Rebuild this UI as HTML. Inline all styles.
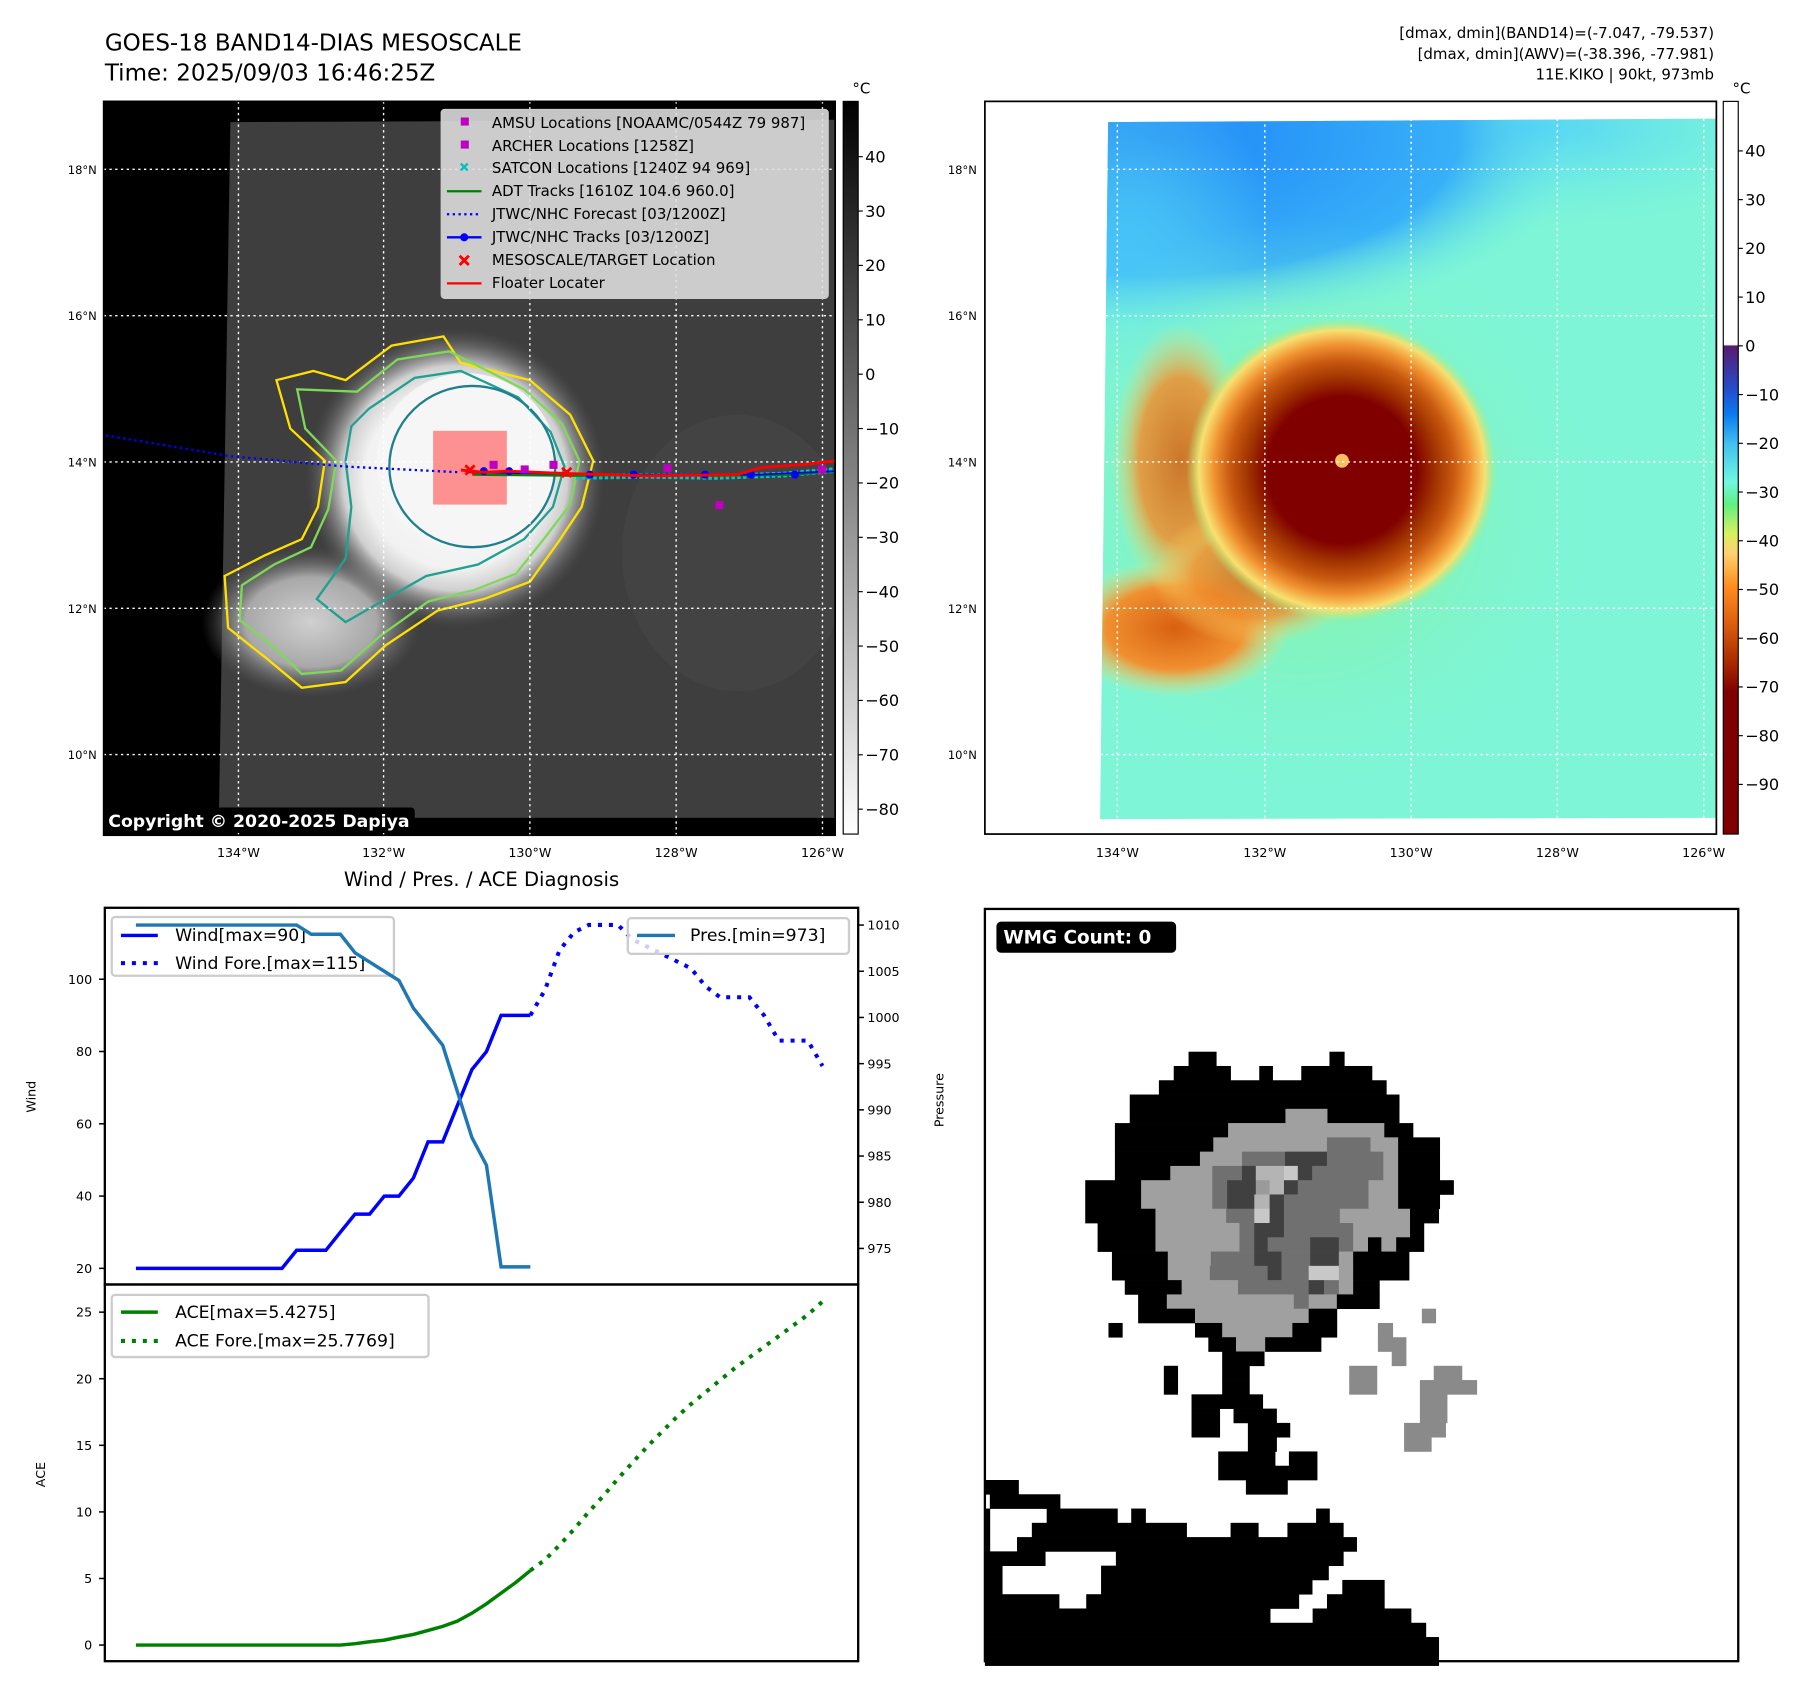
<!DOCTYPE html>
<html><head><meta charset="utf-8"><style>
html,body{margin:0;padding:0;background:#fff;}
svg{display:block;font-family:"DejaVu Sans","Liberation Sans",sans-serif;}
</style></head><body>
<svg id="fig" width="1797" height="1690" viewBox="0 0 1560 1467" preserveAspectRatio="none" xmlns="http://www.w3.org/2000/svg">
<defs>
<linearGradient id="cb1" x1="0" y1="0" x2="0" y2="1"><stop offset="0" stop-color="#000"/><stop offset="1" stop-color="#fff"/></linearGradient>
<linearGradient id="cb2" x1="0" y1="88" x2="0" y2="724" gradientUnits="userSpaceOnUse">
<stop offset="0" stop-color="#fff"/><stop offset="0.332" stop-color="#fff"/><stop offset="0.334" stop-color="#5a1a6e"/>
<stop offset="0.395" stop-color="#2050d0"/><stop offset="0.427" stop-color="#0a7af0"/><stop offset="0.467" stop-color="#40c0f0"/>
<stop offset="0.52" stop-color="#70f8e0"/><stop offset="0.55" stop-color="#60f080"/><stop offset="0.59" stop-color="#d8f060"/>
<stop offset="0.617" stop-color="#ffd070"/><stop offset="0.66" stop-color="#ff9020"/><stop offset="0.71" stop-color="#e06010"/>
<stop offset="0.76" stop-color="#b03000"/><stop offset="0.806" stop-color="#800000"/><stop offset="1" stop-color="#800000"/></linearGradient>
<radialGradient id="core1"><stop offset="0" stop-color="#fafafa"/><stop offset="0.6" stop-color="#f2f2f2"/><stop offset="0.75" stop-color="#d0d0d0"/><stop offset="1" stop-color="#5a5a5a" stop-opacity="0"/></radialGradient>
<radialGradient id="arm1"><stop offset="0" stop-color="#d0d0d0"/><stop offset="0.6" stop-color="#a8a8a8"/><stop offset="1" stop-color="#606060" stop-opacity="0"/></radialGradient>
<radialGradient id="blue2" cx="0.5" cy="0.5" r="0.5"><stop offset="0" stop-color="#1e86f8"/><stop offset="0.7" stop-color="#38b0f8"/><stop offset="1" stop-color="#70f0e8" stop-opacity="0"/></radialGradient>
<radialGradient id="lblue2" cx="0.5" cy="0.5" r="0.5"><stop offset="0" stop-color="#50d0f8"/><stop offset="1" stop-color="#70f0e8" stop-opacity="0"/></radialGradient>
<radialGradient id="storm2"><stop offset="0" stop-color="#800000"/><stop offset="0.48" stop-color="#800000"/><stop offset="0.6" stop-color="#a03200"/><stop offset="0.72" stop-color="#c85a10"/><stop offset="0.82" stop-color="#f09030"/><stop offset="0.92" stop-color="#f8e070"/><stop offset="1" stop-color="#a0f080" stop-opacity="0"/></radialGradient>
<radialGradient id="green2"><stop offset="0" stop-color="#90f080"/><stop offset="1" stop-color="#80f4c8" stop-opacity="0"/></radialGradient>
<radialGradient id="orange2"><stop offset="0" stop-color="#d86010"/><stop offset="0.6" stop-color="#f09030"/><stop offset="1" stop-color="#f8e070" stop-opacity="0"/></radialGradient>
<clipPath id="clip1"><rect x="90" y="88" width="635" height="637"/></clipPath>
<clipPath id="clip2"><rect x="855" y="88" width="635" height="636"/></clipPath>
<clipPath id="img2"><polygon points="962,106 1490,103 1490,710 955,711"/></clipPath>
</defs>

<text x="91" y="44" font-size="20">GOES-18 BAND14-DIAS MESOSCALE</text>
<text x="91" y="70" font-size="20">Time: 2025/09/03 16:46:25Z</text>
<g font-size="13" text-anchor="end">
<text x="1488" y="33">[dmax, dmin](BAND14)=(-7.047, -79.537)</text>
<text x="1488" y="51">[dmax, dmin](AWV)=(-38.396, -77.981)</text>
<text x="1488" y="69">11E.KIKO | 90kt, 973mb</text>
</g>

<g clip-path="url(#clip1)">
<rect x="90" y="88" width="635" height="637" fill="#000"/>
<polygon points="200,106 725,104 725,710 190,710" fill="#3e3e3e"/>
<ellipse cx="640" cy="480" rx="100" ry="120" fill="#484848" opacity="0.6"/>
<ellipse cx="270" cy="540" rx="95" ry="65" fill="url(#arm1)"/>
<ellipse cx="395" cy="415" rx="130" ry="130" fill="url(#core1)"/>
<ellipse cx="405" cy="400" rx="78" ry="76" fill="#f6f6f6"/>
<path d="M300,330 L340,300 L385,292 L400,315 L460,330 L495,360 L515,400 L505,440 L485,470 L460,505 L420,520 L380,530 L335,560 L300,592 L262,597 L232,572 L198,545 L195,500 L230,482 L262,468 L276,440 L282,400 L252,372 L240,330 L272,322 Z" fill="none" stroke="#ffe000" stroke-width="2"/>
<path d="M310,340 L345,312 L390,305 L455,338 L488,368 L503,400 L495,438 L472,468 L448,498 L412,512 L372,522 L330,552 L296,582 L262,585 L238,562 L208,538 L210,508 L238,490 L270,475 L285,442 L292,400 L265,372 L258,338 Z" fill="none" stroke="#7ed957" stroke-width="2"/>
<path d="M320,355 L360,328 L400,322 L450,345 L478,375 L490,405 L480,440 L455,468 L415,490 L370,500 L335,520 L300,540 L275,520 L300,485 L305,440 L300,400 L305,370 Z" fill="none" stroke="#20a090" stroke-width="2"/>
<ellipse cx="410" cy="405" rx="72" ry="70" fill="none" stroke="#1f7f8f" stroke-width="2"/>
<g stroke="#fff" stroke-width="1.2" stroke-dasharray="2,3">
<line x1="207" y1="88" x2="207" y2="725"/><line x1="333" y1="88" x2="333" y2="725"/><line x1="460" y1="88" x2="460" y2="725"/><line x1="587" y1="88" x2="587" y2="725"/><line x1="714" y1="88" x2="714" y2="725"/>
<line x1="90" y1="147" x2="725" y2="147"/><line x1="90" y1="274" x2="725" y2="274"/><line x1="90" y1="401" x2="725" y2="401"/><line x1="90" y1="528" x2="725" y2="528"/><line x1="90" y1="655" x2="725" y2="655"/>
</g>
<rect x="376" y="374" width="64" height="64" fill="#ff7878" opacity="0.8"/>
<polyline points="92,378 200,396 300,405 400,410" fill="none" stroke="#0000ff" stroke-width="2" stroke-dasharray="2,3"/>
<polyline points="500,414 560,413 620,414 680,412 725,408" fill="none" stroke="#00c8c8" stroke-width="5" stroke-dasharray="3,2"/>
<polyline points="410,412 500,413 560,412 620,413 690,412 725,409" fill="none" stroke="#008000" stroke-width="2"/>
<polyline points="405,410 470,411 540,412 600,412 660,412 725,409" fill="none" stroke="#0000ff" stroke-width="1.5"/>
<g fill="#0000ff"><circle cx="420" cy="409" r="3.5"/><circle cx="442" cy="409" r="3.5"/><circle cx="512" cy="412" r="3.5"/><circle cx="550" cy="412" r="3.5"/><circle cx="612" cy="412" r="3.5"/><circle cx="652" cy="412" r="3.5"/><circle cx="690" cy="412" r="3.5"/></g>
<polyline points="400,408 420,410 440,409 490,411 560,413 640,412 660,406 700,403 725,400" fill="none" stroke="#ff0000" stroke-width="2.5"/>
<g fill="#c000c0"><rect x="425" y="400" width="7" height="7"/><rect x="452" y="404" width="7" height="7"/><rect x="477" y="400" width="7" height="7"/><rect x="576" y="403" width="7" height="7"/><rect x="621" y="435" width="7" height="7"/><rect x="710" y="404" width="7" height="7"/></g>
<g stroke="#ff0000" stroke-width="2.5"><path d="M404,404 l8,8 m0,-8 l-8,8"/><path d="M488,406 l8,8 m0,-8 l-8,8"/></g>
<rect x="90" y="701" width="270" height="22" rx="3" fill="#000"/>
<text x="94" y="718" font-size="15" font-weight="bold" fill="#fff">Copyright © 2020-2025 Dapiya</text>
</g>
<rect x="90" y="88" width="635" height="637" fill="none" stroke="#000" stroke-width="1.5"/>
<g>
<rect x="383" y="95" width="336" height="164" rx="3" fill="#e0e0e0" fill-opacity="0.88" stroke="#ccc"/>
<g font-size="13">
<rect x="400" y="102" width="7" height="7" fill="#c000c0"/><text x="427" y="111">AMSU Locations [NOAAMC/0544Z 79 987]</text>
<rect x="400" y="122" width="7" height="7" fill="#c000c0"/><text x="427" y="131">ARCHER Locations [1258Z]</text>
<path d="M400,142 l6,6 m0,-6 l-6,6" stroke="#00c0c0" stroke-width="2"/><text x="427" y="150">SATCON Locations [1240Z 94 969]</text>
<line x1="388" y1="166" x2="418" y2="166" stroke="#008000" stroke-width="2"/><text x="427" y="170">ADT Tracks [1610Z 104.6 960.0]</text>
<line x1="388" y1="186" x2="418" y2="186" stroke="#0000ff" stroke-width="2" stroke-dasharray="2,3"/><text x="427" y="190">JTWC/NHC Forecast [03/1200Z]</text>
<line x1="388" y1="206" x2="418" y2="206" stroke="#0000ff" stroke-width="2"/><circle cx="403" cy="206" r="3.5" fill="#0000ff"/><text x="427" y="210">JTWC/NHC Tracks [03/1200Z]</text>
<path d="M399,222 l8,8 m0,-8 l-8,8" stroke="#ff0000" stroke-width="2.5"/><text x="427" y="230">MESOSCALE/TARGET Location</text>
<line x1="388" y1="246" x2="418" y2="246" stroke="#ff0000" stroke-width="2"/><text x="427" y="250">Floater Locater</text>
</g></g>
<g font-size="10" text-anchor="end">
<text x="84" y="151">18°N</text><text x="84" y="278">16°N</text><text x="84" y="405">14°N</text><text x="84" y="532">12°N</text><text x="84" y="659">10°N</text></g>
<g font-size="11" text-anchor="middle">
<text x="207" y="744">134°W</text><text x="333" y="744">132°W</text><text x="460" y="744">130°W</text><text x="587" y="744">128°W</text><text x="714" y="744">126°W</text></g>
<rect x="732" y="88" width="13" height="636" fill="url(#cb1)" stroke="#000" stroke-width="1"/>
<text x="740" y="81" font-size="13">°C</text>
<g id="cb1ticks" font-size="14"></g>

<g clip-path="url(#clip2)">
<rect x="855" y="88" width="635" height="636" fill="#fff"/>
<polygon points="962,106 1490,103 1490,710 955,711" fill="#7ef5d6"/>
<g clip-path="url(#img2)">
<ellipse cx="1330" cy="110" rx="260" ry="90" fill="url(#lblue2)"/>
<ellipse cx="1000" cy="120" rx="380" ry="170" fill="url(#blue2)"/>
<ellipse cx="980" cy="200" rx="120" ry="160" fill="url(#lblue2)" opacity="0.7"/>
<ellipse cx="1130" cy="440" rx="260" ry="250" fill="url(#green2)" opacity="0.8"/>
<ellipse cx="1020" cy="545" rx="100" ry="60" fill="url(#orange2)"/>
<ellipse cx="1025" cy="400" rx="60" ry="120" fill="url(#orange2)" opacity="0.85"/>
<ellipse cx="1090" cy="500" rx="90" ry="60" fill="url(#orange2)" opacity="0.8"/>
<ellipse cx="1165" cy="408" rx="135" ry="132" fill="url(#storm2)"/>
<ellipse cx="1165" cy="400" rx="6" ry="6" fill="#f8c060"/>
</g>
<g stroke="#fff" stroke-width="1.2" stroke-dasharray="2,3">
<line x1="970" y1="88" x2="970" y2="724"/><line x1="1098" y1="88" x2="1098" y2="724"/><line x1="1225" y1="88" x2="1225" y2="724"/><line x1="1352" y1="88" x2="1352" y2="724"/><line x1="1479" y1="88" x2="1479" y2="724"/>
<line x1="855" y1="147" x2="1490" y2="147"/><line x1="855" y1="274" x2="1490" y2="274"/><line x1="855" y1="401" x2="1490" y2="401"/><line x1="855" y1="528" x2="1490" y2="528"/><line x1="855" y1="655" x2="1490" y2="655"/>
</g>
</g>
<rect x="855" y="88" width="635" height="636" fill="none" stroke="#000" stroke-width="1.5"/>
<g font-size="10" text-anchor="end">
<text x="848" y="151">18°N</text><text x="848" y="278">16°N</text><text x="848" y="405">14°N</text><text x="848" y="532">12°N</text><text x="848" y="659">10°N</text></g>
<g font-size="11" text-anchor="middle">
<text x="970" y="744">134°W</text><text x="1098" y="744">132°W</text><text x="1225" y="744">130°W</text><text x="1352" y="744">128°W</text><text x="1479" y="744">126°W</text></g>
<rect x="1496" y="88" width="13" height="636" fill="url(#cb2)" stroke="#000" stroke-width="1"/>
<text x="1504" y="81" font-size="13">°C</text>
<g id="cb2ticks" font-size="14"></g>

<text x="418" y="769" font-size="17" text-anchor="middle">Wind / Pres. / ACE Diagnosis</text>
<g id="chart">
<rect x="91" y="788" width="654" height="327" fill="none" stroke="#000" stroke-width="2"/>
<rect x="91" y="1115" width="654" height="327" fill="none" stroke="#000" stroke-width="2"/>
<g id="windTicks" font-size="11"></g>
<g id="presTicks" font-size="11"></g>
<g id="aceTicks" font-size="11"></g>
<text transform="translate(31,952) rotate(-90)" font-size="11" text-anchor="middle">Wind</text>
<text transform="translate(819,955) rotate(-90)" font-size="11" text-anchor="middle">Pressure</text>
<text transform="translate(39,1280) rotate(-90)" font-size="11" text-anchor="middle">ACE</text>
<g id="windLines"></g>
<g>
<rect x="97" y="796" width="245" height="51" rx="3" fill="#fff" fill-opacity="0.8" stroke="#ccc" stroke-width="2"/>
<line x1="105" y1="812" x2="137" y2="812" stroke="#0000ff" stroke-width="3"/>
<line x1="105" y1="836" x2="137" y2="836" stroke="#0000ff" stroke-width="3.5" stroke-dasharray="3.5,6"/>
<text x="152" y="817" font-size="15">Wind[max=90]</text>
<text x="152" y="841" font-size="15">Wind Fore.[max=115]</text>
</g>
<g>
<rect x="545" y="797" width="192" height="31" rx="3" fill="#fff" fill-opacity="0.8" stroke="#ccc" stroke-width="2"/>
<line x1="553" y1="812" x2="586" y2="812" stroke="#1f77b4" stroke-width="3"/>
<text x="599" y="817" font-size="15">Pres.[min=973]</text>
</g>
<g id="presLine"></g>
<g>
<rect x="97" y="1124" width="275" height="54" rx="3" fill="#fff" fill-opacity="0.8" stroke="#ccc" stroke-width="2"/>
<line x1="105" y1="1139" x2="137" y2="1139" stroke="#008000" stroke-width="3"/>
<line x1="105" y1="1164" x2="137" y2="1164" stroke="#008000" stroke-width="3.5" stroke-dasharray="3.5,6"/>
<text x="152" y="1144" font-size="15">ACE[max=5.4275]</text>
<text x="152" y="1169" font-size="15">ACE Fore.[max=25.7769]</text>
</g>
<g id="aceLines"></g>
</g>

<g id="wmg"></g>
<rect x="855" y="789" width="654" height="653" fill="none" stroke="#000" stroke-width="2"/>
<rect x="865" y="800" width="156" height="27" rx="4" fill="#000"/>
<text x="871" y="819" font-size="16" font-weight="bold" fill="#fff">WMG Count: 0</text>
</svg>
<script>
const windObs = [20,20,20,20,20,20,20,20,20,20,20,25,25,25,30,35,35,40,40,45,55,55,65,75,80,90,90,90];
const windFore = [90,97,108,113,115,115,115,111,109,107,105,103,98,95,95,95,90,83,83,83,76];
const presObs = [1010,1010,1010,1010,1010,1010,1010,1010,1010,1010,1010,1010,1009,1009,1009,1007,1006,1005,1004,1001,999,997,992,987,984,973,973,973];
const aceObs = [0,0,0,0,0,0,0,0,0,0,0,0,0,0,0,0.1,0.25,0.37,0.6,0.8,1.1,1.4,1.8,2.4,3.1,3.9,4.7,5.6];
const aceFore = [5.6,6.4,7.5,8.7,10.0,11.2,12.5,13.7,14.9,16.0,17.1,18.1,19.0,19.9,20.8,21.6,22.4,23.2,24.0,24.8,25.8];
const windTickVals = [20,40,60,80,100];
const presTickVals = [975,980,985,990,995,1000,1005,1010];
const aceTickVals = [0,5,10,15,20,25];
const cb1Vals = [40,30,20,10,0,-10,-20,-30,-40,-50,-60,-70,-80];
const cb2Vals = [40,30,20,10,0,-10,-20,-30,-40,-50,-60,-70,-80,-90];
const wmgSpans = [
[10,412,468,'K'],[10,697,727,'K'],
[11,382,497,'K'],[11,555,582,'K'],[11,640,783,'K'],
[12,352,812,'K'],[13,293,838,'K'],
[14,293,608,'K'],[14,608,693,'G'],[14,693,838,'K'],
[15,263,492,'K'],[15,492,808,'G'],[15,808,866,'K'],
[16,263,462,'K'],[16,462,692,'G'],[16,692,780,'D'],[16,780,836,'G'],[16,836,920,'K'],
[17,263,435,'K'],[17,435,520,'G'],[17,520,607,'D'],[17,607,692,'V'],[17,692,806,'D'],[17,806,836,'G'],[17,836,920,'K'],
[18,263,375,'K'],[18,375,460,'G'],[18,460,520,'D'],[18,520,548,'V'],[18,548,605,'L'],[18,605,633,'T'],[18,633,662,'V'],[18,662,806,'D'],[18,806,836,'G'],[18,836,920,'K'],
[19,203,316,'K'],[19,316,460,'G'],[19,460,490,'D'],[19,490,548,'V'],[19,548,576,'M'],[19,576,605,'L'],[19,605,633,'V'],[19,633,776,'D'],[19,776,836,'G'],[19,836,948,'K'],
[20,203,316,'K'],[20,316,460,'G'],[20,460,490,'D'],[20,490,545,'V'],[20,545,576,'L'],[20,576,605,'V'],[20,605,776,'D'],[20,776,836,'G'],[20,836,920,'K'],
[21,203,345,'K'],[21,345,488,'G'],[21,488,545,'D'],[21,545,576,'T'],[21,576,605,'V'],[21,605,718,'D'],[21,718,860,'G'],[21,860,918,'K'],
[22,228,345,'K'],[22,345,515,'G'],[22,515,545,'D'],[22,545,605,'V'],[22,605,745,'D'],[22,745,860,'G'],[22,860,888,'K'],
[23,228,345,'K'],[23,345,515,'G'],[23,515,545,'D'],[23,545,572,'V'],[23,572,658,'D'],[23,658,716,'V'],[23,716,745,'D'],[23,745,775,'G'],[23,775,802,'K'],[23,802,832,'G'],[23,832,888,'K'],
[24,257,370,'K'],[24,370,457,'G'],[24,457,545,'D'],[24,545,600,'V'],[24,600,658,'D'],[24,658,716,'V'],[24,716,745,'G'],[24,745,858,'K'],
[25,257,370,'K'],[25,370,455,'G'],[25,455,572,'D'],[25,572,600,'V'],[25,600,655,'D'],[25,655,716,'T'],[25,716,745,'G'],[25,745,858,'K'],
[26,283,398,'K'],[26,398,512,'G'],[26,512,655,'D'],[26,655,686,'V'],[26,686,716,'D'],[26,716,745,'G'],[26,745,798,'K'],
[27,310,368,'K'],[27,368,625,'G'],[27,625,655,'D'],[27,655,712,'G'],[27,712,798,'K'],
[28,310,425,'K'],[28,425,655,'G'],[28,655,712,'K'],[28,884,912,'N'],
[29,250,278,'K'],[29,425,480,'K'],[29,480,622,'G'],[29,622,712,'K'],[29,795,825,'N'],
[30,452,508,'K'],[30,508,567,'G'],[30,567,680,'K'],[30,795,852,'N'],
[31,480,565,'K'],[31,823,852,'N'],
[32,362,390,'K'],[32,480,535,'K'],[32,737,793,'N'],[32,908,965,'N'],
[33,362,390,'K'],[33,480,535,'K'],[33,737,793,'N'],[33,880,995,'N'],
[34,418,562,'K'],[34,880,935,'N'],
[35,418,475,'K'],[35,503,590,'K'],[35,880,935,'N'],
[36,418,475,'K'],[36,532,617,'K'],[36,848,932,'N'],
[37,532,590,'K'],[37,848,903,'N'],
[38,472,587,'K'],[38,615,672,'K'],
[39,472,672,'K'],
[40,0,68,'K'],[40,528,612,'K'],
[41,10,152,'K'],
[42,0,10,'K'],[42,125,268,'K'],[42,296,325,'K'],[42,670,697,'K'],
[43,0,10,'K'],[43,95,408,'K'],[43,497,553,'K'],[43,612,725,'K'],
[44,0,10,'K'],[44,65,752,'K'],
[45,0,122,'K'],[45,265,725,'K'],
[46,0,35,'K'],[46,235,695,'K'],
[47,0,35,'K'],[47,235,662,'K'],[47,723,808,'K'],
[48,0,150,'K'],[48,205,635,'K'],[48,692,808,'K'],
[49,0,577,'K'],[49,663,862,'K'],
[50,0,892,'K'],[51,0,918,'K'],[52,0,918,'K']
];
const shadeColors = {K:'#000',G:'#a0a0a0',D:'#707070',V:'#404040',L:'#b4b4b4',T:'#c8c8c8',M:'#9a9a9a',N:'#8a8a8a'};

const NS = 'http://www.w3.org/2000/svg';
function mk(tag, attrs, parent){ const e=document.createElementNS(NS,tag); for(const k in attrs) e.setAttribute(k,attrs[k]); parent.appendChild(e); return e; }

const nSteps = windObs.length - 1 + windFore.length - 1;
const xAt = i => 118 + i * (714 - 118) / nSteps;
const yWind = v => 1101 - (v - 20) * 62.75 / 20;
const yPres = p => 803 + (1010 - p) * 40.1 / 5;
const yAce = a => 1428 - a * 57.8 / 5;
const off = windObs.length - 1;
function pts(arr, start, yf){ return arr.map((v,k)=>xAt(start+k).toFixed(1)+','+yf(v).toFixed(1)).join(' '); }

const wt = document.getElementById('windTicks');
windTickVals.forEach(v=>{
  const y=yWind(v);
  mk('line',{x1:86,y1:y,x2:91,y2:y,stroke:'#000','stroke-width':1.3},wt);
  const t = mk('text',{x:80,y:y+4,'text-anchor':'end'},wt); t.textContent=v;
  
  
});
const pt = document.getElementById('presTicks');
presTickVals.forEach(v=>{
  const y=yPres(v);
  mk('line',{x1:745,y1:y,x2:750,y2:y,stroke:'#000','stroke-width':1.3},pt);
  const t = mk('text',{x:753,y:y+4},pt); t.textContent=v;
  
  
});
const at = document.getElementById('aceTicks');
aceTickVals.forEach(v=>{
  const y=yAce(v);
  mk('line',{x1:86,y1:y,x2:91,y2:y,stroke:'#000','stroke-width':1.3},at);
  const t = mk('text',{x:80,y:y+4,'text-anchor':'end'},at); t.textContent=v;
  
  
});

const wl = document.getElementById('windLines');
const l1 = mk('polyline',{points:pts(windObs,0,yWind),fill:'none',stroke:'#0000ff','stroke-width':3},wl);


const l2 = mk('polyline',{points:pts(windFore,off,yWind),fill:'none',stroke:'#0000ff','stroke-width':3.5,'stroke-dasharray':'3.5,6'},wl);


const pl = document.getElementById('presLine');
const l3 = mk('polyline',{points:pts(presObs,0,yPres),fill:'none',stroke:'#1f77b4','stroke-width':3},pl);


const al = document.getElementById('aceLines');
const l4 = mk('polyline',{points:pts(aceObs,0,yAce),fill:'none',stroke:'#008000','stroke-width':3},al);


const l5 = mk('polyline',{points:pts(aceFore,off,yAce),fill:'none',stroke:'#008000','stroke-width':3.5,'stroke-dasharray':'3.5,6'},al);



const c1 = document.getElementById('cb1ticks');
cb1Vals.forEach(v=>{
  const y = 136 + (40 - v) * 4.72;
  mk('line',{x1:745,y1:y,x2:749,y2:y,stroke:'#000'},c1);
  const t = mk('text',{x:751,y:y+5},c1); t.textContent = v<0 ? '\u2212'+(-v) : v;
  
  
});
const c2 = document.getElementById('cb2ticks');
cb2Vals.forEach(v=>{
  const y = 131 + (40 - v) * 4.23;
  mk('line',{x1:1509,y1:y,x2:1513,y2:y,stroke:'#000'},c2);
  const t = mk('text',{x:1515,y:y+5},c2); t.textContent = v<0 ? '\u2212'+(-v) : v;
  
  
});

const wmg = document.getElementById('wmg');
const sx = 654/1524, sy = 653/1507, cellZ = 28.6;
wmgSpans.forEach(s=>{
  const x0 = 855 + s[1]*sx, x1 = 855 + s[2]*sx;
  const y0 = 789 + s[0]*cellZ*sy;
  const r = mk('rect',{x:x0.toFixed(2),y:y0.toFixed(2),width:(x1-x0+0.3).toFixed(2),height:(cellZ*sy+0.3).toFixed(2),fill:shadeColors[s[3]]},wmg);
  
  
});
</script>
</body></html>
